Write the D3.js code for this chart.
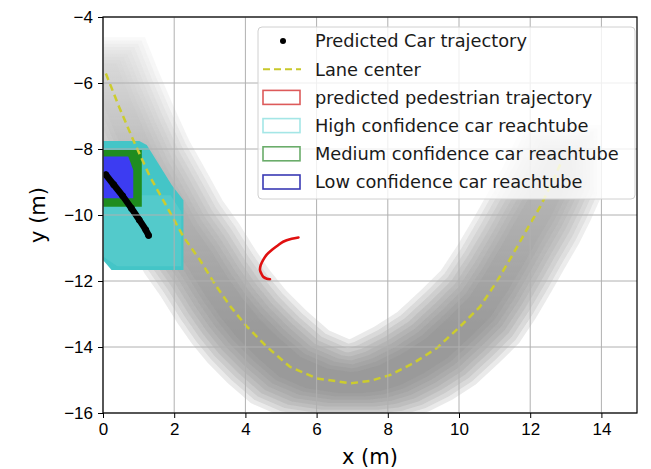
<!DOCTYPE html>
<html lang="en">
<head>
<meta charset="utf-8">
<title>Car and pedestrian reachtubes</title>
<script src="https://cdn.jsdelivr.net/npm/d3@7"></script>
<style>
  body { margin: 0; background: #fff; }
  svg { font-family: "DejaVu Sans", sans-serif; }
  .axis text { font-size: 17px; fill: #000; }
  .axis path, .axis line { stroke: #000; }
  .grid line { stroke: #b0b0b0; stroke-width: 1; }
  .legend text { font-size: 17.8px; fill: #1a1a1a; }
</style>
</head>
<body>
<script>
// lane center (m)
var laneX = [0.08, 0.45, 0.85, 1.32, 1.69, 2.26, 2.72, 3.19, 3.6, 4.04, 4.6, 5.25, 6.0, 6.94, 7.5, 8.06, 8.72, 9.37, 10.03, 10.59, 11.06, 11.53, 11.9, 12.28, 12.6, 12.88];
var laneY = [-5.71, -6.72, -7.73, -8.84, -9.55, -10.66, -11.36, -12.17, -12.8, -13.38, -13.99, -14.6, -14.95, -15.1, -15.03, -14.85, -14.49, -14.04, -13.38, -12.78, -12.02, -11.16, -10.45, -9.75, -9.05, -8.38];

// predicted car trajectory
var carX = [0.08, 0.3, 0.55, 0.8, 1.02, 1.2, 1.28];
var carY = [-8.78, -9.08, -9.42, -9.8, -10.15, -10.45, -10.62];

// predicted pedestrian trajectory
var pedX = [5.49, 5.3, 5.06, 4.9, 4.74, 4.6, 4.5, 4.43, 4.41, 4.45, 4.5, 4.6, 4.69];
var pedY = [-10.68, -10.72, -10.81, -10.93, -11.06, -11.2, -11.36, -11.52, -11.67, -11.78, -11.87, -11.93, -11.95];

// car reachtubes (polygon corners)
var highX = [-0.5, 1.02, 1.23, 1.93, 2.26, 2.26, 0.24, 0.0, -0.5];
var highY = [-7.76, -7.76, -7.88, -9.09, -9.55, -11.67, -11.67, -11.36, -11.36];
var highInnerX = [-0.5, 1.9, 2.2, 2.2, 0.4, -0.5];
var highInnerY = [-9.4, -9.4, -9.9, -11.55, -11.55, -10.9];
var medX = [-0.5, 1.09, 1.09, -0.5];
var medY = [-8.03, -8.03, -9.75, -9.75];
var lowX = [-0.5, 0.71, 0.85, 0.85, -0.5];
var lowY = [-8.23, -8.23, -8.64, -9.49, -9.49];

// half sizes of the squares that make up the grey lane tube (m)
var tubeSizes = [0.3, 0.4, 0.5, 0.6, 0.7, 0.8, 0.9, 1.0, 1.1];

var xTicks = [0, 2, 4, 6, 8, 10, 12, 14];
var yTicks = [-4, -6, -8, -10, -12, -14, -16];

var legendLabels = ["Predicted Car trajectory", "Lane center", "predicted pedestrian trajectory",
  "High confidence car reachtube", "Medium confidence car reachtube", "Low confidence car reachtube"];

var margin = {top: 17, left: 103, right: 14, bottom: 56};
var W = 651, H = 469;
var width = W - margin.left - margin.right;
var height = H - margin.top - margin.bottom;

var x = d3.scaleLinear().domain([0, 15]).range([0, width]);
var y = d3.scaleLinear().domain([-16, -4]).range([height, 0]);

var svg = d3.select("body").append("svg")
  .attr("width", W)
  .attr("height", H);

var defs = svg.append("defs");
defs.append("clipPath")
  .attr("id", "clip")
  .append("rect")
  .attr("width", width)
  .attr("height", height);

// tube gets lighter towards its start (top left)
var grad = defs.append("linearGradient")
  .attr("id", "fadeGrad")
  .attr("gradientUnits", "userSpaceOnUse")
  .attr("x1", 0).attr("x2", 0)
  .attr("y1", y(-4.5)).attr("y2", y(-13.5));
grad.append("stop").attr("offset", 0).attr("stop-color", "#4a4a4a");
grad.append("stop").attr("offset", 0.4).attr("stop-color", "#a8a8a8");
grad.append("stop").attr("offset", 1).attr("stop-color", "#fff");
defs.append("mask")
  .attr("id", "fade")
  .attr("maskUnits", "userSpaceOnUse")
  .attr("x", 0).attr("y", 0).attr("width", width).attr("height", height)
  .append("rect")
  .attr("width", width).attr("height", height)
  .attr("fill", "url(#fadeGrad)");

var g = svg.append("g")
  .attr("transform", "translate(" + margin.left + "," + margin.top + ")");

var plot = g.append("g").attr("clip-path", "url(#clip)");

function zip(xs, ys) { return xs.map(function(v, i) { return [v, ys[i]]; }); }
var line = d3.line().x(function(d) { return x(d[0]); }).y(function(d) { return y(d[1]); });

// grey lane tube: union of squares swept between lane points, one layer per size
var lane = zip(laneX, laneY);
var tube = plot.append("g").attr("mask", "url(#fade)");
tubeSizes.slice().reverse().forEach(function(h) {
  var dstr = "";
  for (var i = 0; i < lane.length - 1; i++) {
    var pts = [];
    [lane[i], lane[i + 1]].forEach(function(p) {
      pts.push([x(p[0] - h), y(p[1] - h)], [x(p[0] + h), y(p[1] - h)],
               [x(p[0] + h), y(p[1] + h)], [x(p[0] - h), y(p[1] + h)]);
    });
    var hull = d3.polygonHull(pts);
    dstr += "M" + hull.join("L") + "Z";
  }
  tube.append("path")
    .attr("d", dstr)
    .attr("fill", "#808080")
    .attr("fill-rule", "nonzero")
    .attr("fill-opacity", 0.17);
});

// car reachtubes
function poly(xs, ys, fill, op) {
  plot.append("path")
    .attr("d", line(zip(xs, ys)) + "Z")
    .attr("fill", fill)
    .attr("fill-opacity", op);
}
poly(highX, highY, "#44c5c7", 1);
poly(highInnerX, highInnerY, "#62cfcf", 0.5);
poly(medX, medY, "#1f8c1f", 1);
poly(lowX, lowY, "#3c3cf2", 1);

// grid above patches
g.append("g").attr("class", "grid")
  .selectAll("line").data(xTicks).enter().append("line")
  .attr("x1", function(d) { return x(d); }).attr("x2", function(d) { return x(d); })
  .attr("y1", 0).attr("y2", height);
g.append("g").attr("class", "grid")
  .selectAll("line").data(yTicks).enter().append("line")
  .attr("y1", function(d) { return y(d); }).attr("y2", function(d) { return y(d); })
  .attr("x1", 0).attr("x2", width);

// lane center
plot.append("path")
  .attr("d", line(lane))
  .attr("fill", "none")
  .attr("stroke", "#cccc2e")
  .attr("stroke-width", 2.5)
  .attr("stroke-dasharray", "7,4.5");

// pedestrian
plot.append("path")
  .attr("d", line.curve(d3.curveCatmullRom)(zip(pedX, pedY)))
  .attr("fill", "none")
  .attr("stroke", "#e01010")
  .attr("stroke-width", 2.6)
  .attr("stroke-linecap", "round");
line.curve(d3.curveLinear);

// car trajectory
var car = zip(carX, carY);
plot.append("path")
  .attr("d", line.curve(d3.curveCatmullRom)(car))
  .attr("fill", "none")
  .attr("stroke", "#000")
  .attr("stroke-width", 6.5)
  .attr("stroke-linecap", "round");
line.curve(d3.curveLinear);
plot.selectAll(".cardot").data(car).enter().append("circle")
  .attr("cx", function(d) { return x(d[0]); })
  .attr("cy", function(d) { return y(d[1]); })
  .attr("r", 3.3)
  .attr("fill", "#000");

// axes
var minus = function(d) { return String(d).replace("-", "\u2212"); };
g.append("g").attr("class", "axis")
  .attr("transform", "translate(0," + height + ")")
  .call(d3.axisBottom(x).tickValues(xTicks).tickSize(5).tickPadding(5).tickFormat(minus))
  .call(function(s) { s.select(".domain").remove(); });
g.append("g").attr("class", "axis")
  .call(d3.axisLeft(y).tickValues(yTicks).tickSize(5).tickPadding(5).tickFormat(minus))
  .call(function(s) { s.select(".domain").remove(); });

g.append("rect")
  .attr("width", width).attr("height", height)
  .attr("fill", "none").attr("stroke", "#000").attr("stroke-width", 1.2);

svg.append("text")
  .attr("x", margin.left + width / 2)
  .attr("y", 464)
  .attr("text-anchor", "middle")
  .style("font-size", "21px")
  .text("x (m)");
svg.append("text")
  .attr("transform", "translate(45," + (margin.top + height / 2) + ") rotate(-90)")
  .attr("text-anchor", "middle")
  .style("font-size", "21px")
  .text("y (m)");

// legend
var leg = svg.append("g").attr("class", "legend").attr("transform", "translate(258,27)");
leg.append("rect")
  .attr("width", 377).attr("height", 172)
  .attr("rx", 4)
  .attr("fill", "#fff").attr("fill-opacity", 0.8)
  .attr("stroke", "#d0d0d0");

var rowY = function(i) { return 14 + i * 28.2; };
leg.append("circle").attr("cx", 25).attr("cy", rowY(0)).attr("r", 3).attr("fill", "#000");
leg.append("line")
  .attr("x1", 5).attr("x2", 43).attr("y1", rowY(1)).attr("y2", rowY(1))
  .attr("stroke", "#c8c82a").attr("stroke-width", 2).attr("stroke-dasharray", "7,4");
var swatch = ["#dd5a5a", "#a4e6e6", "#6aac6a", "#3a3ab4"];
swatch.forEach(function(c, k) {
  leg.append("rect")
    .attr("x", 5).attr("y", rowY(k + 2) - 7)
    .attr("width", 37).attr("height", 14)
    .attr("fill", "#fff").attr("fill-opacity", 0.6)
    .attr("stroke", c).attr("stroke-width", 1.6);
});
leg.selectAll(".lt").data(legendLabels).enter().append("text")
  .attr("x", 57)
  .attr("y", function(d, i) { return rowY(i); })
  .attr("dy", "0.36em")
  .text(function(d) { return d; });
</script>
</body>
</html>
